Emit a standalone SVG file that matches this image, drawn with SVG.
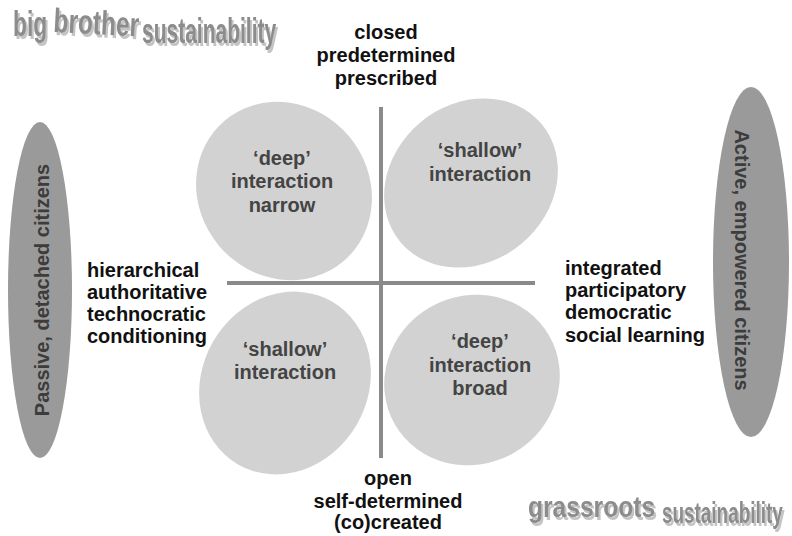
<svg xmlns="http://www.w3.org/2000/svg" width="792" height="536" viewBox="0 0 792 536">
  <style>
    .lbl { font-family: "Liberation Sans", Arial, sans-serif; font-weight: bold; font-size: 20px; fill: #111; }
    .mid { text-anchor: middle; }
    .blob { fill: #d2d2d2; }
    .blobtxt { font-family: "Liberation Sans", Arial, sans-serif; font-weight: bold; font-size: 20px; fill: #444; text-anchor: middle; }
    .side { fill: #9a9a9a; }
    .sidetxt { font-family: "Liberation Sans", Arial, sans-serif; font-weight: bold; font-size: 20px; fill: #3c3c3c; text-anchor: middle; dominant-baseline: central; }
    .axis { stroke: #8a8a8a; stroke-width: 4; fill: none; }
    .wa { font-family: "Liberation Sans", Arial, sans-serif; font-weight: bold; fill: #8c8c8c; filter: url(#extrude); }
  </style>
  <defs>
    <!-- light grey offset copy behind the word-art titles -->
    <filter id="extrude" x="-5%" y="-30%" width="112%" height="170%">
      <feOffset in="SourceAlpha" dx="2" dy="3" result="off"/>
      <feFlood flood-color="#c4c4c4"/>
      <feComposite in2="off" operator="in" result="shade"/>
      <feMerge>
        <feMergeNode in="shade"/>
        <feMergeNode in="SourceGraphic"/>
      </feMerge>
    </filter>
  </defs>

  <rect width="792" height="536" fill="#ffffff"/>

  <!-- quadrant blobs -->
  <g id="q-top-left">
    <ellipse class="blob" cx="0" cy="0" rx="92" ry="85" transform="translate(284,191) rotate(50)"/>
    <text class="blobtxt" x="282" y="165">‘deep’</text>
    <text class="blobtxt" x="282" y="188">interaction</text>
    <text class="blobtxt" x="282" y="212">narrow</text>
  </g>
  <g id="q-top-right">
    <ellipse class="blob" cx="0" cy="0" rx="92" ry="79" transform="translate(471,183) rotate(-40)"/>
    <text class="blobtxt" x="480" y="157">‘shallow’</text>
    <text class="blobtxt" x="480" y="181">interaction</text>
  </g>
  <g id="q-bottom-left">
    <ellipse class="blob" cx="0" cy="0" rx="94" ry="83" transform="translate(285,383) rotate(-60)"/>
    <text class="blobtxt" x="285" y="356">‘shallow’</text>
    <text class="blobtxt" x="285" y="379">interaction</text>
  </g>
  <g id="q-bottom-right">
    <ellipse class="blob" cx="0" cy="0" rx="89" ry="84" transform="translate(472,380) rotate(-30)"/>
    <text class="blobtxt" x="480" y="348">‘deep’</text>
    <text class="blobtxt" x="480" y="372">interaction</text>
    <text class="blobtxt" x="480" y="395">broad</text>
  </g>

  <!-- axes -->
  <g id="connectors">
    <line class="axis" x1="381" y1="107" x2="381" y2="458"/>
    <line class="axis" x1="227" y1="283" x2="535" y2="283"/>
  </g>

  <!-- axis end labels -->
  <g id="label-top">
    <text class="lbl mid" x="386" y="39">closed</text>
    <text class="lbl mid" x="386" y="62">predetermined</text>
    <text class="lbl mid" x="386" y="85">prescribed</text>
  </g>
  <g id="label-bottom">
    <text class="lbl mid" x="388" y="485">open</text>
    <text class="lbl mid" x="388" y="508">self-determined</text>
    <text class="lbl mid" x="388" y="529">(co)created</text>
  </g>
  <g id="label-left">
    <text class="lbl" x="87" y="277">hierarchical</text>
    <text class="lbl" x="87" y="299">authoritative</text>
    <text class="lbl" x="87" y="321">technocratic</text>
    <text class="lbl" x="87" y="343">conditioning</text>
  </g>
  <g id="label-right">
    <text class="lbl" x="565" y="275">integrated</text>
    <text class="lbl" x="565" y="297">participatory</text>
    <text class="lbl" x="565" y="319">democratic</text>
    <text class="lbl" x="565" y="342">social learning</text>
  </g>

  <!-- side ellipses -->
  <g id="passive-citizens">
    <ellipse class="side" cx="40" cy="290" rx="32" ry="168"/>
    <text class="sidetxt" transform="translate(42,290) rotate(-90)">Passive, detached citizens</text>
  </g>
  <g id="active-citizens">
    <ellipse class="side" cx="751" cy="262" rx="38" ry="175"/>
    <text class="sidetxt" transform="translate(742,260) rotate(90)">Active, empowered citizens</text>
  </g>

  <!-- word-art titles: condensed bold letters with a grey offset -->
  <g id="big-brother" class="wa">
    <text font-size="35" transform="translate(13,36) scale(0.65,1)">big</text>
    <text font-size="34" transform="translate(53,32) rotate(3) scale(0.72,1)">brother</text>
    <text font-size="35" transform="translate(142,43) scale(0.6,1)">sustainability</text>
  </g>
  <g id="grassroots" class="wa">
    <text font-size="30" transform="translate(528,517) scale(0.82,1)">grassroots</text>
    <text font-size="30" transform="translate(662,523) scale(0.63,1)">sustainability</text>
  </g>
</svg>
